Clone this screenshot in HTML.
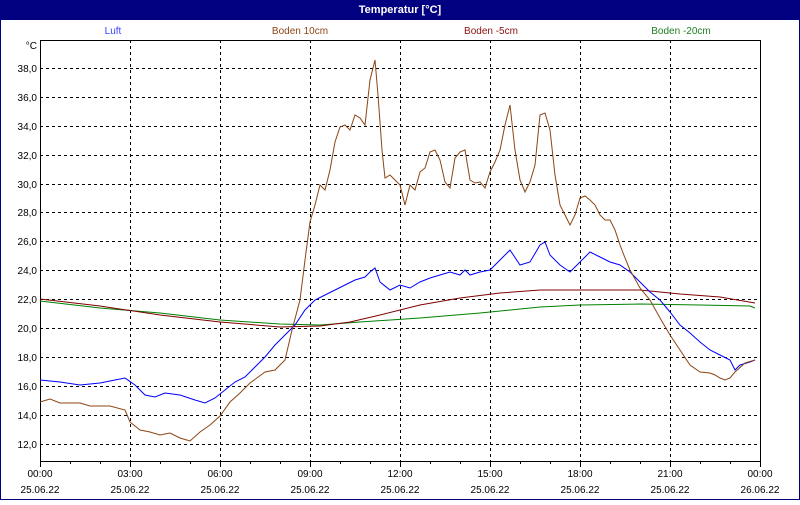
<!DOCTYPE html>
<html><head><style>
body{margin:0;width:800px;height:500px;overflow:hidden;background:#fff;font-family:"Liberation Sans",sans-serif}
</style></head><body>
<svg width="800" height="500" xmlns="http://www.w3.org/2000/svg" font-family="Liberation Sans, sans-serif" font-size="10">
<rect x="0" y="0" width="800" height="500" fill="#fff"/>
<rect x="0.5" y="0.5" width="799" height="499" fill="none" stroke="#000080" stroke-width="1"/>
<rect x="0" y="0" width="800" height="20" fill="#000080"/>
<text x="400" y="13" fill="#fff" font-weight="bold" text-anchor="middle" font-size="11">Temperatur [°C]</text>
<text x="113" y="34" fill="#4040ff" text-anchor="middle">Luft</text>
<text x="300" y="34" fill="#8b4513" text-anchor="middle">Boden 10cm</text>
<text x="491" y="34" fill="#8b1010" text-anchor="middle">Boden -5cm</text>
<text x="681" y="34" fill="#208020" text-anchor="middle">Boden -20cm</text>
<g stroke="#000" stroke-dasharray="3,3" stroke-width="1">
<line x1="40" x2="760" y1="68.5" y2="68.5"/><line x1="40" x2="760" y1="97.5" y2="97.5"/><line x1="40" x2="760" y1="126.5" y2="126.5"/><line x1="40" x2="760" y1="155.5" y2="155.5"/><line x1="40" x2="760" y1="184.5" y2="184.5"/><line x1="40" x2="760" y1="212.5" y2="212.5"/><line x1="40" x2="760" y1="241.5" y2="241.5"/><line x1="40" x2="760" y1="270.5" y2="270.5"/><line x1="40" x2="760" y1="299.5" y2="299.5"/><line x1="40" x2="760" y1="328.5" y2="328.5"/><line x1="40" x2="760" y1="357.5" y2="357.5"/><line x1="40" x2="760" y1="386.5" y2="386.5"/><line x1="40" x2="760" y1="415.5" y2="415.5"/><line x1="40" x2="760" y1="444.5" y2="444.5"/>
<line x1="130.5" x2="130.5" y1="40" y2="461"/><line x1="220.5" x2="220.5" y1="40" y2="461"/><line x1="310.5" x2="310.5" y1="40" y2="461"/><line x1="400.5" x2="400.5" y1="40" y2="461"/><line x1="490.5" x2="490.5" y1="40" y2="461"/><line x1="580.5" x2="580.5" y1="40" y2="461"/><line x1="670.5" x2="670.5" y1="40" y2="461"/>
</g>
<rect x="40.5" y="40.5" width="720" height="421" fill="none" stroke="#000"/>
<g stroke="#000"><line x1="40.5" x2="40.5" y1="461" y2="467"/><line x1="70.5" x2="70.5" y1="461" y2="464"/><line x1="100.5" x2="100.5" y1="461" y2="464"/><line x1="130.5" x2="130.5" y1="461" y2="467"/><line x1="160.5" x2="160.5" y1="461" y2="464"/><line x1="190.5" x2="190.5" y1="461" y2="464"/><line x1="220.5" x2="220.5" y1="461" y2="467"/><line x1="250.5" x2="250.5" y1="461" y2="464"/><line x1="280.5" x2="280.5" y1="461" y2="464"/><line x1="310.5" x2="310.5" y1="461" y2="467"/><line x1="340.5" x2="340.5" y1="461" y2="464"/><line x1="370.5" x2="370.5" y1="461" y2="464"/><line x1="400.5" x2="400.5" y1="461" y2="467"/><line x1="430.5" x2="430.5" y1="461" y2="464"/><line x1="460.5" x2="460.5" y1="461" y2="464"/><line x1="490.5" x2="490.5" y1="461" y2="467"/><line x1="520.5" x2="520.5" y1="461" y2="464"/><line x1="550.5" x2="550.5" y1="461" y2="464"/><line x1="580.5" x2="580.5" y1="461" y2="467"/><line x1="610.5" x2="610.5" y1="461" y2="464"/><line x1="640.5" x2="640.5" y1="461" y2="464"/><line x1="670.5" x2="670.5" y1="461" y2="467"/><line x1="700.5" x2="700.5" y1="461" y2="464"/><line x1="730.5" x2="730.5" y1="461" y2="464"/><line x1="760.5" x2="760.5" y1="461" y2="467"/></g>
<g text-anchor="end" fill="#000">
<text x="37" y="49">°C</text>
<text x="37" y="72">38,0</text><text x="37" y="101">36,0</text><text x="37" y="130">34,0</text><text x="37" y="159">32,0</text><text x="37" y="188">30,0</text><text x="37" y="216">28,0</text><text x="37" y="245">26,0</text><text x="37" y="274">24,0</text><text x="37" y="303">22,0</text><text x="37" y="332">20,0</text><text x="37" y="361">18,0</text><text x="37" y="390">16,0</text><text x="37" y="419">14,0</text><text x="37" y="448">12,0</text>
</g>
<g text-anchor="middle" fill="#000">
<text x="40" y="477">00:00</text><text x="130" y="477">03:00</text><text x="220" y="477">06:00</text><text x="310" y="477">09:00</text><text x="400" y="477">12:00</text><text x="490" y="477">15:00</text><text x="580" y="477">18:00</text><text x="670" y="477">21:00</text><text x="760" y="477">00:00</text>
<text x="40" y="493">25.06.22</text><text x="130" y="493">25.06.22</text><text x="220" y="493">25.06.22</text><text x="310" y="493">25.06.22</text><text x="400" y="493">25.06.22</text><text x="490" y="493">25.06.22</text><text x="580" y="493">25.06.22</text><text x="670" y="493">25.06.22</text><text x="760" y="493">26.06.22</text>
</g>
<g fill="none" stroke-width="1">
<polyline stroke="#008000" points="40,301 100,308 160,313 220,320 280,324 320,325 360,322 420,318 480,313 540,307 580,305 640,304 700,305 750,306 755,308"/>
<polyline stroke="#800000" points="40,299 100,306 160,315 220,322 280,327 320,326 350,322 380,315 420,305 460,298 500,293 540,290 600,290 640,290 680,294 720,297 755,303"/>
<polyline stroke="#0000ff" points="40,380 60,382 80,385 100,383 115,380 125,378 135,385 145,395 155,397 165,393 180,395 195,400 205,403 215,398 225,390 235,382 245,377 255,367 265,357 275,345 285,335 295,325 305,310 315,300 325,295 335,290 345,285 355,280 365,277 370,272 375,268 380,282 390,290 400,285 410,288 420,282 430,278 440,275 450,272 460,275 465,270 470,275 480,272 490,270 500,260 510,250 520,265 530,262 540,245 545,242 550,255 560,265 570,272 580,262 590,252 600,257 610,262 620,265 630,272 640,282 650,292 660,300 670,312 680,325 690,333 700,342 710,350 720,355 730,360 735,370 740,365 750,362 755,360"/>
<polyline stroke="#8b4513" points="40,402 50,399 60,403 80,403 90,406 110,406 125,410 130,422 140,430 150,432 160,435 170,433 180,438 190,441 200,432 210,425 220,416 230,402 240,393 250,383 265,372 275,370 285,360 292,330 300,300 305,260 310,222 315,205 320,185 325,190 330,170 335,142 340,127 345,125 350,130 355,115 360,118 365,125 370,80 375,60 378,95 382,150 385,178 390,175 395,180 400,185 405,205 410,185 415,190 420,172 425,168 430,152 435,150 440,160 445,182 450,188 455,158 460,152 465,150 470,180 475,183 480,182 485,188 490,172 495,162 500,150 505,125 510,105 515,150 520,180 525,192 530,182 535,165 540,115 545,113 550,130 555,175 560,205 565,215 570,225 575,215 580,198 585,196 590,200 595,205 600,215 605,220 610,220 615,230 620,245 625,258 630,270 640,288 650,300 660,318 670,335 680,350 690,365 700,372 710,373 715,375 720,378 725,380 730,378 735,372 745,363 755,360"/>
</g>
</svg>
</body></html>
